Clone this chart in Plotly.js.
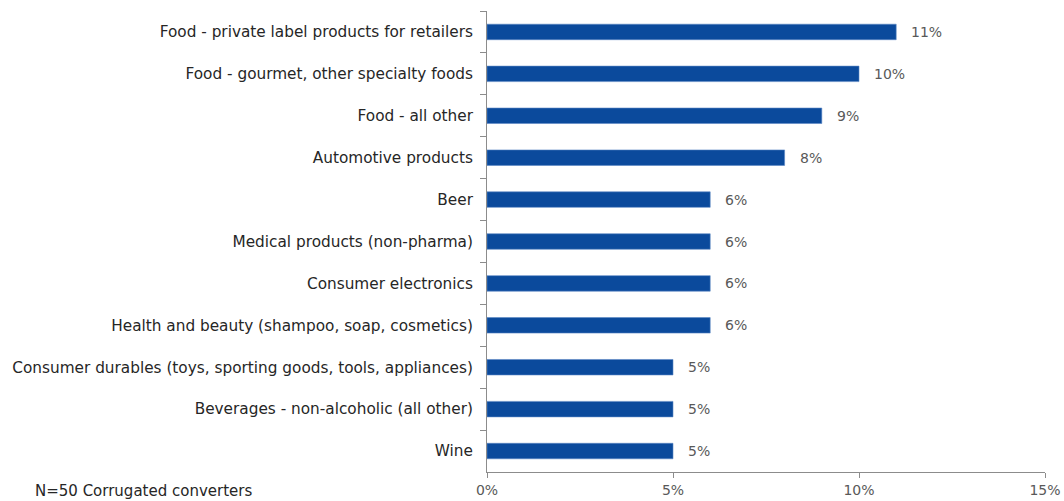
<!DOCTYPE html>
<html>
<head>
<meta charset="utf-8">
<script src="https://cdn.plot.ly/plotly-3.0.1.min.js"></script>
<style>html,body{margin:0;padding:0;background:#fff;}#chart{width:1064px;height:501px;}</style>
</head>
<body>
<div id="chart"></div>
<script>
const categories = [
  "Food - private label products for retailers",
  "Food - gourmet, other specialty foods",
  "Food - all other",
  "Automotive products",
  "Beer",
  "Medical products (non-pharma)",
  "Consumer electronics",
  "Health and beauty (shampoo, soap, cosmetics)",
  "Consumer durables (toys, sporting goods, tools, appliances)",
  "Beverages - non-alcoholic (all other)",
  "Wine"
];
const shares = [11, 10, 9, 8, 6, 6, 6, 6, 5, 5, 5];
const xTickVals = [0, 5, 10, 15];
const xTickText = ["0%", "5%", "10%", "15%"];
const footnote = "N=50 Corrugated converters";

const FONT = "'DejaVu Sans', sans-serif";

const trace = {
  type: "bar",
  orientation: "h",
  y: categories,
  x: shares,
  marker: { color: "#0b4a9c", line: { color: "#5b86c4", width: 0.6 } },
  hoverinfo: "none"
};

const labelAnns = categories.map((c, i) => ({
  x: shares[i], y: c, xref: "x", yref: "y",
  text: shares[i] + "%", showarrow: false,
  xanchor: "left", xshift: 13,
  font: { family: FONT, size: 14, color: "#595959" }
}));

const layout = {
  width: 1064, height: 501,
  margin: { l: 487, r: 19, t: 11, b: 29 },
  paper_bgcolor: "#fff", plot_bgcolor: "#fff",
  showlegend: false,
  bargap: 0.63,
  font: { family: FONT, size: 15, color: "#262626" },
  xaxis: {
    range: [0, 15],
    tickvals: xTickVals, ticktext: xTickText,
    showgrid: false, zeroline: false,
    showline: true, linecolor: "#8c8c8c", linewidth: 1,
    ticks: "outside", ticklen: 5, tickcolor: "#8c8c8c",
    tickfont: { family: FONT, size: 14, color: "#595959" },
    fixedrange: true
  },
  yaxis: {
    autorange: "reversed",
    type: "category",
    showgrid: false, zeroline: false,
    showline: true, linecolor: "#8c8c8c", linewidth: 1,
    ticks: "outside", ticklen: 6, tickcolor: "#8c8c8c",
    tickson: "boundaries",
    ticklabelstandoff: 10,
    tickfont: { family: FONT, size: 15.3, color: "#262626" },
    fixedrange: true
  },
  annotations: labelAnns.concat([{
    xref: "paper", yref: "paper",
    x: (33 - 487) / 558, y: (472 - 491) / 461,
    xanchor: "left", yanchor: "middle",
    text: footnote, showarrow: false,
    font: { family: FONT, size: 15, color: "#262626" }
  }])
};

Plotly.newPlot("chart", [trace], layout, { staticPlot: true, displayModeBar: false });
</script>
</body>
</html>
